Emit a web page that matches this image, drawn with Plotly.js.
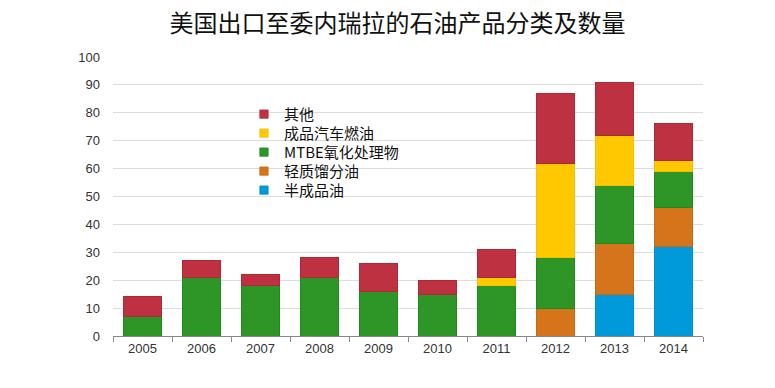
<!DOCTYPE html>
<html><head><meta charset="utf-8">
<script src="https://cdn.plot.ly/plotly-3.0.1.min.js"></script>
<style>html,body{margin:0;padding:0;background:#fff;}#chart{width:775px;height:388px;}</style>
</head><body><div id="chart"></div>
<script>
const years = ["2005","2006","2007","2008","2009","2010","2011","2012","2013","2014"];
const seriesNames = ["半成品油","轻质馏分油","MTBE氧化处理物","成品汽车燃油","其他"];
const semiFinished = [0,0,0,0,0,0,0,0,15,32];
const lightDistillate = [0,0,0,0,0,0,0,10,18,14];
const mtbe = [7,21,18,21,16,15,18,18,21,13];
const gasoline = [0,0,0,0,0,0,3,34,18,4];
const other = [7,6,4,7,10,5,10,25,19,13];
const colors = ["#0099DA","#D5741A","#2D9627","#FFC800","#BE3140"];
const lineColors = ["#0090CC","#C86A12","#208A1C","#F5BE00","#B02835"];

const values = [semiFinished, lightDistillate, mtbe, gasoline, other];
const traces = values.map((v,i)=>({
  type:"bar", x:years, y:v, name:seriesNames[i],
  marker:{color:colors[i], line:{color:lineColors[i], width:1}},
  hoverinfo:"x+y+name"
}));

const layout = {
  width:775, height:388,
  margin:{l:113, r:72, t:57, b:52},
  paper_bgcolor:"#fff", plot_bgcolor:"#fff",
  barmode:"stack", bargap:0.37,
  title:{text:"美国出口至委内瑞拉的石油产品分类及数量", x:0.513, xanchor:"center", y:0.94, yanchor:"middle",
         font:{family:"Noto Sans CJK SC", size:24, color:"#111"}},
  font:{family:"Liberation Sans, Arial", color:"#333"},
  xaxis:{type:"category", tickson:"boundaries", ticks:"outside", ticklen:5, tickcolor:"#888",
         showline:true, linecolor:"#888", linewidth:1, showgrid:false,
         tickfont:{family:"Liberation Sans, Arial", size:13, color:"#333"}},
  yaxis:{range:[0,100], dtick:10, showgrid:true, gridcolor:"#dcdcdc", gridwidth:1,
         zeroline:false, showline:false, ticks:"", ticklabelstandoff:12,
         tickfont:{family:"Liberation Sans, Arial", size:13, color:"#333"}},
  shapes:[{type:"rect", xref:"paper", yref:"paper", x0:0.208, x1:0.58, y0:0.455, y1:0.85,
           fillcolor:"#fff", line:{width:0}, layer:"below"}],
  legend:{x:0.222, y:0.85, xanchor:"left", yanchor:"top", traceorder:"reversed",
          bgcolor:"rgba(255,255,255,0)", font:{family:"Noto Sans CJK SC", size:15, color:"#111"},
          itemwidth:30, tracegroupgap:0, borderwidth:0},
  showlegend:true
};
Plotly.newPlot("chart", traces, layout, {displayModeBar:false, staticPlot:true}).then(()=>{
  document.querySelectorAll('.legendpoints path').forEach(p=>{
    const t = p.getAttribute('transform') || '';
    p.setAttribute('transform', t + ' scale(0.7)');
  });
  const items = Array.from(document.querySelectorAll('.legend .traces'));
  const parse = el => {
    const m = /translate\(\s*([-\d.]+)[ ,]+([-\d.]+)\s*\)/.exec(el.getAttribute('transform')||'');
    return m ? [parseFloat(m[1]), parseFloat(m[2])] : [0,0];
  };
  items.sort((a,b)=>parse(a)[1]-parse(b)[1]);
  if (items.length) {
    const y0 = parse(items[0])[1] - 1;
    items.forEach((el,i)=>{
      const [x] = parse(el);
      el.setAttribute('transform', 'translate(' + x + ',' + (y0 + i*19) + ')');
    });
  }
});
</script>
</body></html>
